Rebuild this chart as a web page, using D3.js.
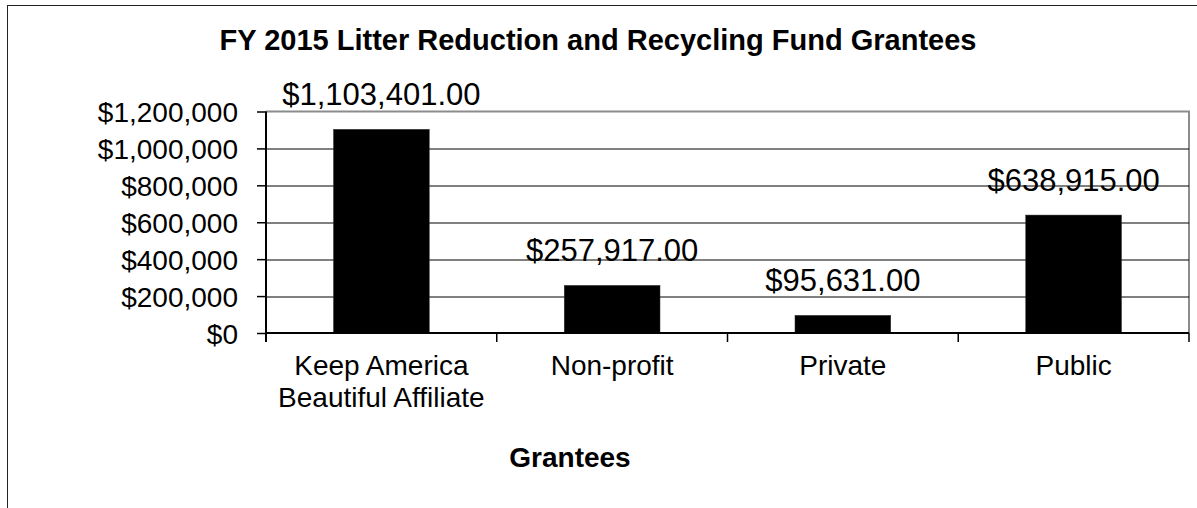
<!DOCTYPE html>
<meta charset="utf-8">
<style>
body { margin: 0; background: #fff; }
text { font-family: Arial, "Liberation Sans", sans-serif; fill: #000; }
</style>
<script src="https://cdn.jsdelivr.net/npm/d3@7"></script>
<div id="chart"></div>
<script>
// chart values
var categories = ["Keep America Beautiful Affiliate", "Non-profit", "Private", "Public"];
var categoryLines = [["Keep America", "Beautiful Affiliate"], ["Non-profit"], ["Private"], ["Public"]];
var amounts = [1103401, 257917, 95631, 638915];
var yTicks = [0, 200000, 400000, 600000, 800000, 1000000, 1200000];

var W = 1197, H = 508;
var margin = {top: 111.5, left: 266, right: 8, bottom: 175};
var width = W - margin.left - margin.right,
    height = H - margin.top - margin.bottom;

var svg = d3.select("#chart").append("svg")
    .attr("width", W)
    .attr("height", H);

// outer chart border (runs off the right and bottom edges)
svg.append("rect")
    .attr("x", 7.5).attr("y", 5.5)
    .attr("width", W + 20).attr("height", H + 20)
    .attr("fill", "#fff")
    .attr("stroke", "#222")
    .attr("stroke-width", 1);

// title
svg.append("text")
    .attr("x", 598).attr("y", 50)
    .attr("text-anchor", "middle")
    .style("font-size", "29px")
    .style("font-weight", "bold")
    .text("FY 2015 Litter Reduction and Recycling Fund Grantees");

var g = svg.append("g")
    .attr("transform", "translate(" + margin.left + "," + margin.top + ")");

var x = d3.scaleBand()
    .domain(categories)
    .range([0, width])
    .padding(0);

var y = d3.scaleLinear()
    .domain([0, 1200000])
    .range([height, 0]);

// plot area frame: gray top and right
g.append("path")
    .attr("d", "M0,0H" + width + "V" + height)
    .attr("fill", "none")
    .attr("stroke", "#8c8c8c")
    .attr("stroke-width", 2);

// gridlines
g.selectAll(".grid")
  .data(yTicks.filter(function(d) { return d > 0 && d < 1200000; }))
  .enter().append("line")
    .attr("x1", 0).attr("x2", width)
    .attr("y1", function(d) { return Math.round(y(d)) + 0.5; })
    .attr("y2", function(d) { return Math.round(y(d)) + 0.5; })
    .attr("stroke", "#000")
    .attr("stroke-width", 1);

// bars
var barW = x.bandwidth() * 0.415;
g.selectAll(".bar")
  .data(amounts)
  .enter().append("rect")
    .attr("x", function(d, i) { return x(categories[i]) + (x.bandwidth() - barW) / 2; })
    .attr("y", function(d) { return y(d); })
    .attr("width", barW)
    .attr("height", function(d) { return height - y(d); })
    .attr("fill", "#000")
    .attr("stroke", "#333")
    .attr("stroke-width", 0.5);

// value labels
var fmt = d3.format("$,.2f");
g.selectAll(".val")
  .data(amounts)
  .enter().append("text")
    .attr("x", function(d, i) { return x(categories[i]) + x.bandwidth() / 2; })
    .attr("y", function(d) { return y(d) - 24; })
    .attr("text-anchor", "middle")
    .style("font-size", "31px")
    .text(function(d) { return fmt(d); });

// y axis
var yAxis = g.append("g")
    .call(d3.axisLeft(y).tickValues(yTicks).tickSize(9).tickPadding(19)
      .tickFormat(function(d) { return "$" + d3.format(",")(d); }));
yAxis.select(".domain").attr("stroke", "#000").attr("stroke-width", 2).attr("d", "M0," + (height + 9) + "V0");
yAxis.selectAll(".tick line").attr("stroke", "#000").attr("stroke-width", 1.5);
yAxis.selectAll(".tick text")
    .style("font-size", "28px")
    .attr("dy", "0.36em");

// x axis with ticks at category boundaries
var xAxis = g.append("g")
    .attr("transform", "translate(0," + height + ")");
xAxis.append("line")
    .attr("x1", 0).attr("x2", width)
    .attr("stroke", "#000").attr("stroke-width", 2);
xAxis.selectAll(".xt")
  .data(categories.concat([null]))
  .enter().append("line")
    .attr("x1", function(d, i) { return i * x.step(); })
    .attr("x2", function(d, i) { return i * x.step(); })
    .attr("y1", 0).attr("y2", 9)
    .attr("stroke", "#000").attr("stroke-width", 1.5);

var labels = xAxis.selectAll(".cat")
  .data(categories)
  .enter().append("text")
    .attr("x", function(d) { return x(d) + x.bandwidth() / 2; })
    .attr("y", 42)
    .attr("text-anchor", "middle")
    .style("font-size", "28px");
labels.selectAll("tspan")
  .data(function(d, i) { return categoryLines[i]; })
  .enter().append("tspan")
    .attr("x", function() { return d3.select(this.parentNode).attr("x"); })
    .attr("dy", function(d, i) { return i === 0 ? 0 : 32; })
    .text(function(d) { return d; });

// x axis title
svg.append("text")
    .attr("x", 570).attr("y", 467)
    .attr("text-anchor", "middle")
    .style("font-size", "28px")
    .style("font-weight", "bold")
    .text("Grantees");
</script>
